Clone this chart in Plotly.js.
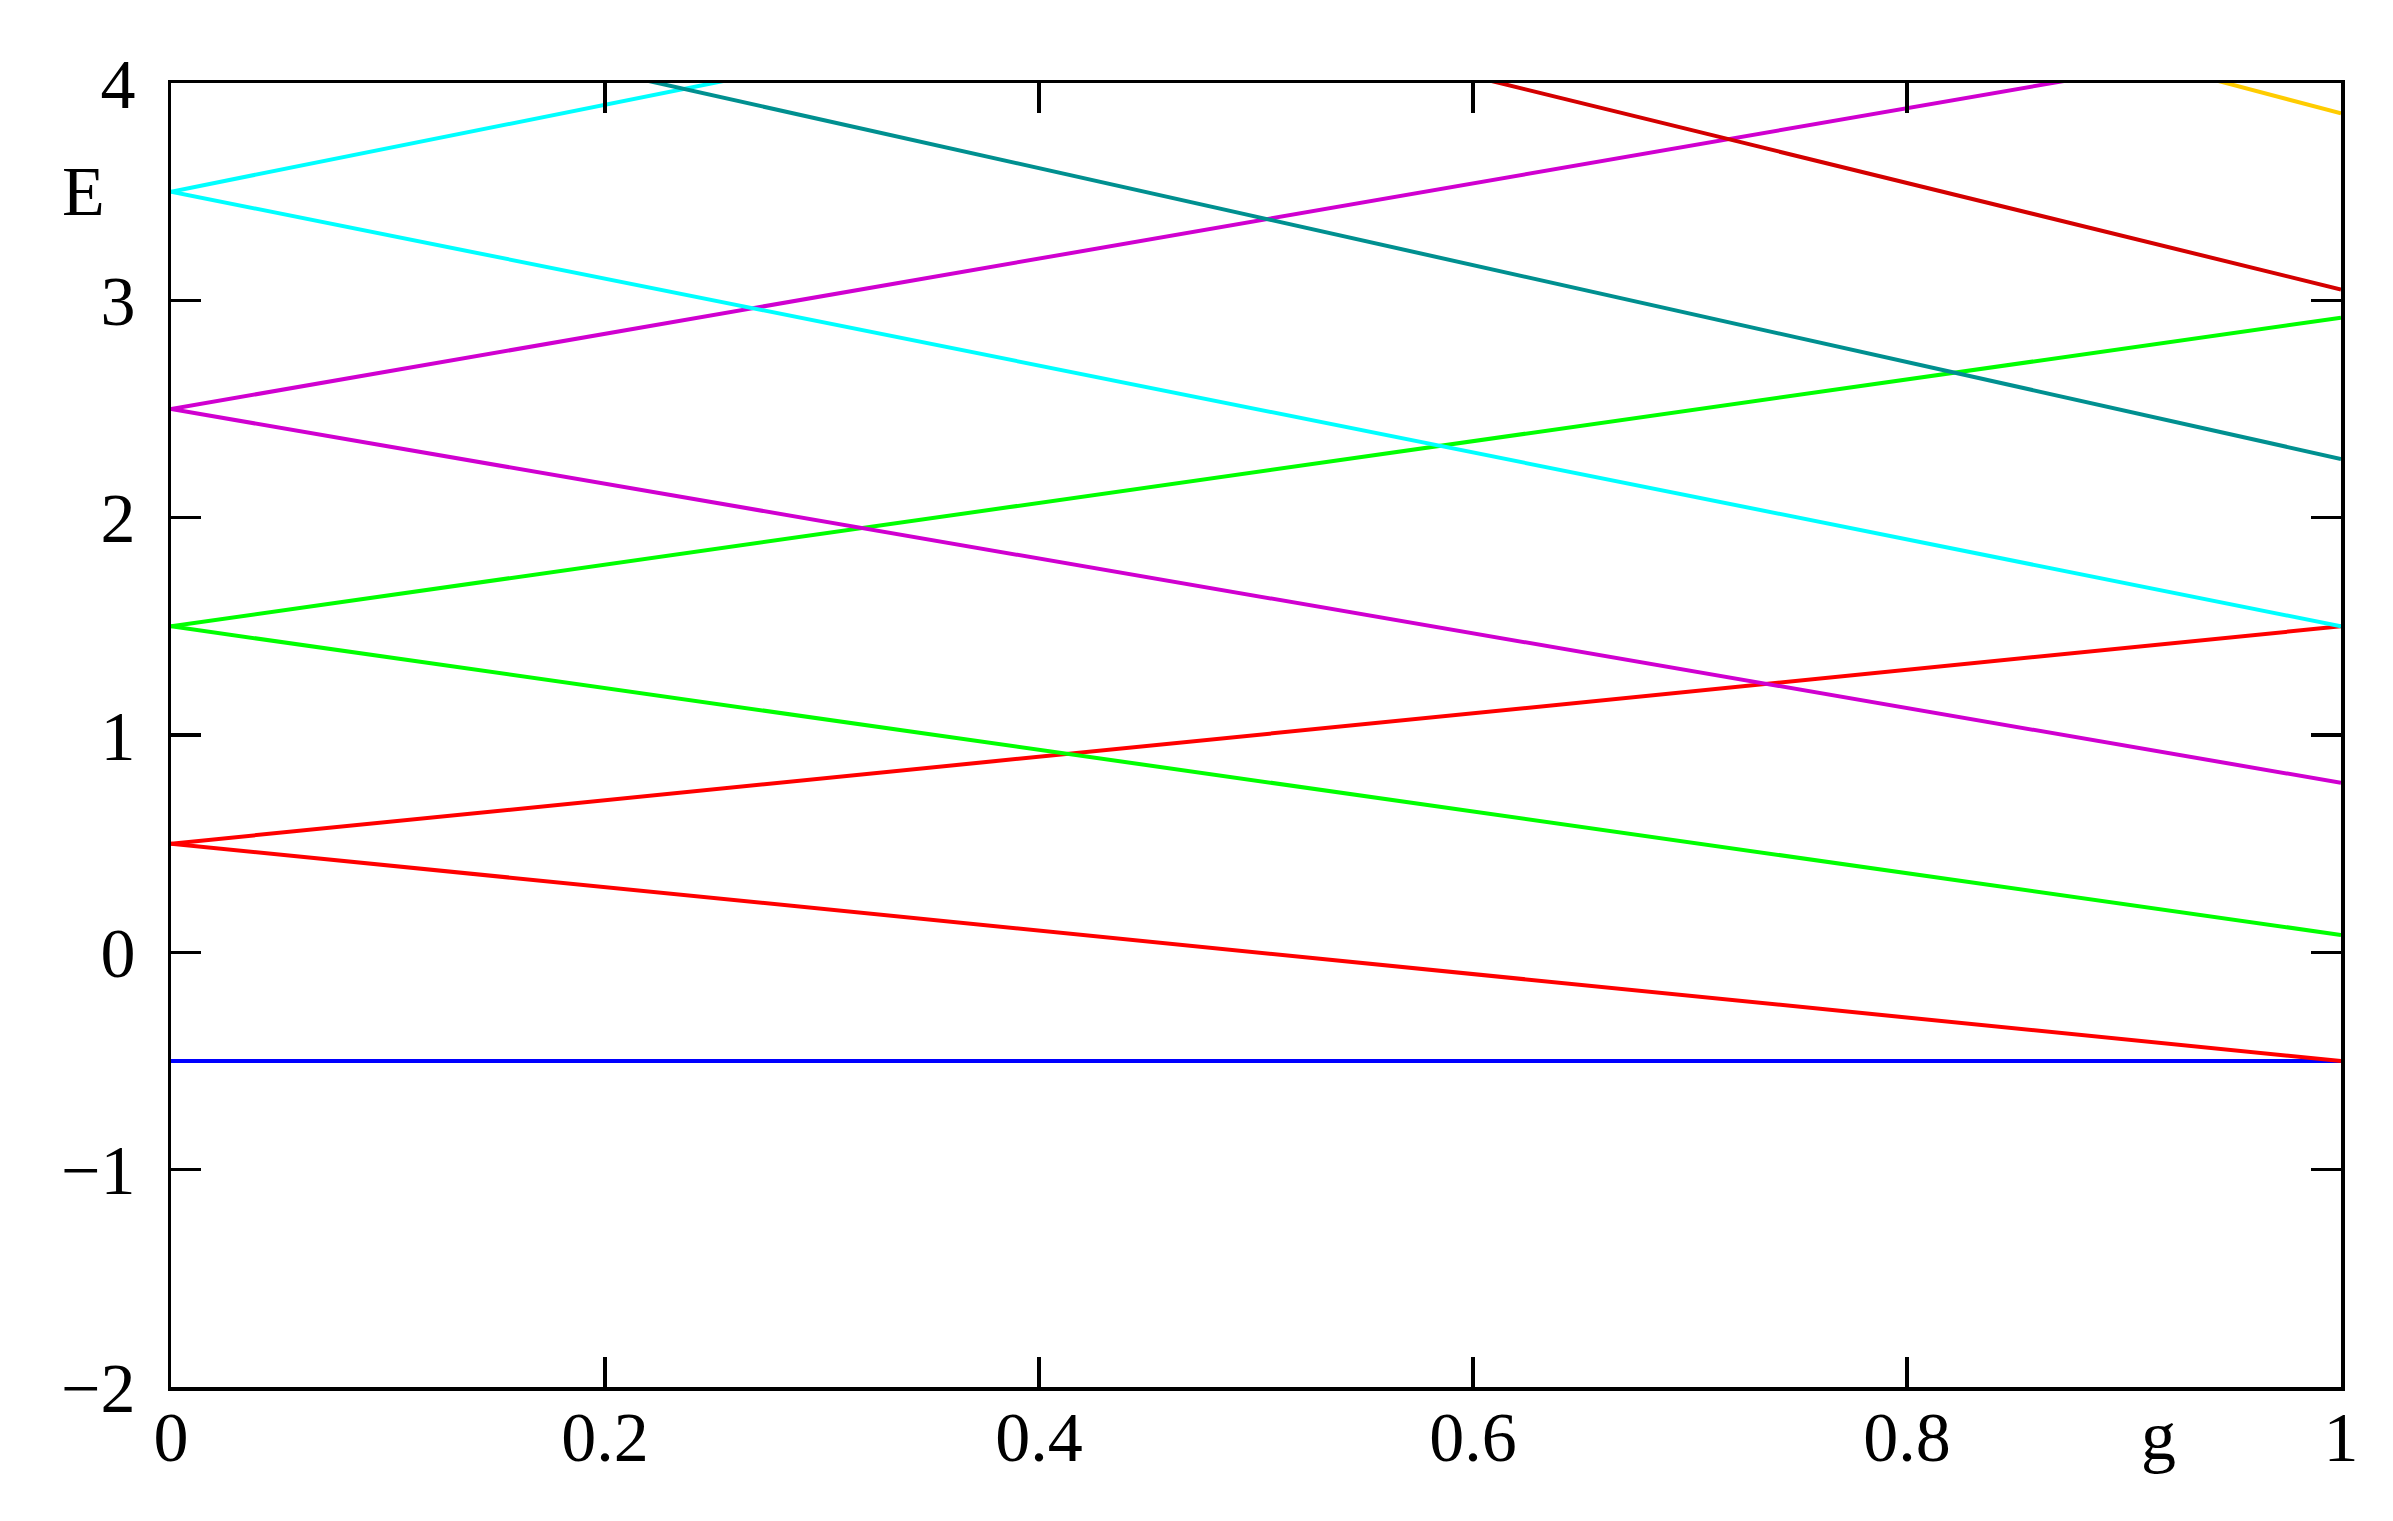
<!DOCTYPE html>
<html>
<head>
<meta charset="utf-8">
<script src="https://cdn.plot.ly/plotly-3.0.1.min.js"></script>
<style>
  html, body { margin: 0; padding: 0; background: #fff; }
  #levels { width: 2393px; height: 1521px; }
</style>
</head>
<body>
<div id="levels"></div>
<script>
// energy levels E vs coupling g, each level is a straight line from g=0 to g=1
var g = [0, 1];

var ground   = [-0.5, -0.5];
var n1Lower  = [0.5, -0.5];
var n1Upper  = [0.5, 1.5];
var n2Lower  = [1.5, 0.08];
var n2Upper  = [1.5, 2.92];
var n3Lower  = [2.5, 0.78];
var n3Upper  = [2.5, 4.23];
var n4Lower  = [3.5, 1.5];
var n4Upper  = [3.5, 5.5];
var n5Lower  = [4.5, 2.27];
var n6Lower  = [5.5, 3.05];
var n7Lower  = [6.5, 3.86];

var yTicks = [-2, -1, 0, 1, 2, 3, 4];
var xTicks = [0, 0.2, 0.4, 0.6, 0.8, 1];
var xTickText = ['0', '0.2', '0.4', '0.6', '0.8', '1'];

function level(yv, color) {
  return {
    x: g, y: yv,
    type: 'scatter', mode: 'lines',
    line: {color: color, width: 4},
    hoverinfo: 'skip',
    cliponaxis: true
  };
}

var data = [
  level(ground, '#0000ff'),
  level(n1Lower, '#ff0000'),
  level(n1Upper, '#ff0000'),
  level(n2Lower, '#00ff00'),
  level(n2Upper, '#00ff00'),
  level(n3Lower, '#d000d0'),
  level(n3Upper, '#d000d0'),
  level(n4Lower, '#00ffff'),
  level(n4Upper, '#00ffff'),
  level(n5Lower, '#009090'),
  level(n6Lower, '#d40000'),
  level(n7Lower, '#ffcc00')
];

var tickFont = {family: 'Liberation Serif, Times New Roman, serif', size: 70, color: '#000'};

var layout = {
  width: 2393,
  height: 1521,
  showlegend: false,
  paper_bgcolor: '#fff',
  plot_bgcolor: '#fff',
  margin: {l: 171, r: 52, t: 83, b: 134, pad: 0},

  xaxis: {
    range: [0, 1],
    tickvals: xTicks,
    ticktext: xTickText,
    ticks: 'inside', ticklen: 30, tickwidth: 3.5, tickcolor: '#000',
    showline: true, linewidth: 3.5, linecolor: '#000', mirror: 'ticks',
    showgrid: false, zeroline: false,
    ticklabelstandoff: -14,
    tickfont: tickFont
  },
  yaxis: {
    range: [-2, 4],
    tickvals: yTicks,
    ticks: 'inside', ticklen: 30, tickwidth: 3.5, tickcolor: '#000',
    showline: true, linewidth: 3.5, linecolor: '#000', mirror: 'ticks',
    showgrid: false, zeroline: false,
    ticklabelstandoff: 18,
    tickfont: tickFont
  },

  // axis labels sit like gnuplot's: E beside the top of the y axis, g under the x axis
  annotations: [
    {
      x: 0, y: 3.5, xref: 'paper', yref: 'y',
      xanchor: 'right', yanchor: 'middle', xshift: -64,
      text: 'E', showarrow: false, font: tickFont
    },
    {
      x: 0.916, y: 0, xref: 'x', yref: 'paper',
      xanchor: 'center', yanchor: 'top', yshift: -8,
      text: 'g', showarrow: false, font: tickFont
    }
  ]
};

var options = {displayModeBar: false, staticPlot: true};

Plotly.newPlot('levels', data, layout, options);
</script>
</body>
</html>
